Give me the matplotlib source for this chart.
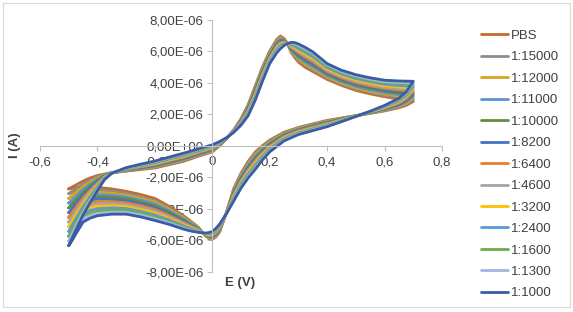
import numpy as np
import matplotlib
matplotlib.use("Agg")
import matplotlib.pyplot as plt
from matplotlib.ticker import FuncFormatter
from matplotlib.patches import Rectangle

plt.rcParams['font.family'] = ['Liberation Sans', 'DejaVu Sans']

labels = ['PBS', '1:15000', '1:12000', '1:11000', '1:10000', '1:8200', '1:6400',
          '1:4600', '1:3200', '1:2400', '1:1600', '1:1300', '1:1000']
colors = ['#C8692E', '#8C8C8C', '#D6A51E', '#5E93CF', '#5E8E3E', '#4472C4', '#ED7D31',
          '#A5A5A5', '#FFC000', '#5B9BD5', '#70AD47', '#A3B5E0', '#3A5BA6']

# potential (V), anodic sweep -0.5 -> 0.7
e_fwd = [-0.5, -0.4875, -0.475, -0.45, -0.425, -0.4, -0.375, -0.35, -0.3, -0.25, -0.2,
         -0.1, -0.05, 0.0, 0.025, 0.05, 0.075, 0.1, 0.125, 0.15, 0.175, 0.2, 0.225,
         0.2375, 0.25, 0.2625, 0.275, 0.2875, 0.3, 0.325, 0.35, 0.4, 0.45, 0.5, 0.55,
         0.6, 0.65, 0.7]
# current (uA), one row per potential, one column per series (same order as labels)
i_fwd = [
    [-2.75, -3.05, -3.35, -3.65, -3.95, -4.25, -4.55, -4.85, -5.15, -5.45, -5.75, -6.05, -6.35],
    [-2.62, -2.89, -3.16, -3.43, -3.70, -3.97, -4.24, -4.50, -4.77, -5.04, -5.31, -5.58, -5.85],
    [-2.50, -2.74, -2.98, -3.21, -3.45, -3.69, -3.93, -4.16, -4.40, -4.64, -4.88, -5.11, -5.35],
    [-2.25, -2.43, -2.61, -2.79, -2.97, -3.15, -3.33, -3.50, -3.68, -3.86, -4.04, -4.22, -4.40],
    [-2.05, -2.18, -2.31, -2.44, -2.57, -2.70, -2.83, -2.95, -3.08, -3.21, -3.34, -3.47, -3.60],
    [-1.90, -1.98, -2.06, -2.14, -2.22, -2.30, -2.38, -2.45, -2.53, -2.61, -2.69, -2.77, -2.85],
    [-1.80, -1.83, -1.86, -1.89, -1.92, -1.95, -1.98, -2.00, -2.03, -2.06, -2.09, -2.12, -2.15],
    [-1.72, -1.72, -1.73, -1.73, -1.73, -1.73, -1.74, -1.74, -1.74, -1.74, -1.75, -1.75, -1.75],
    [-1.62, -1.60, -1.58, -1.57, -1.55, -1.53, -1.51, -1.49, -1.47, -1.46, -1.44, -1.42, -1.40],
    [-1.52, -1.49, -1.46, -1.44, -1.41, -1.38, -1.35, -1.32, -1.29, -1.27, -1.24, -1.21, -1.18],
    [-1.42, -1.38, -1.35, -1.31, -1.27, -1.24, -1.20, -1.16, -1.13, -1.09, -1.05, -1.02, -0.98],
    [-1.00, -0.96, -0.91, -0.87, -0.83, -0.78, -0.74, -0.70, -0.65, -0.61, -0.57, -0.52, -0.48],
    [-0.68, -0.64, -0.60, -0.57, -0.53, -0.49, -0.45, -0.41, -0.37, -0.34, -0.30, -0.26, -0.22],
    [-0.40, -0.36, -0.33, -0.29, -0.25, -0.21, -0.18, -0.14, -0.10, -0.06, -0.03, 0.01, 0.05],
    [-0.02, 0.00, 0.03, 0.05, 0.07, 0.09, 0.12, 0.14, 0.16, 0.18, 0.21, 0.23, 0.25],
    [0.45, 0.45, 0.46, 0.46, 0.47, 0.47, 0.48, 0.48, 0.48, 0.49, 0.49, 0.50, 0.50],
    [1.00, 0.99, 0.98, 0.96, 0.95, 0.94, 0.93, 0.91, 0.90, 0.89, 0.88, 0.86, 0.85],
    [1.70, 1.67, 1.63, 1.60, 1.57, 1.53, 1.50, 1.47, 1.43, 1.40, 1.37, 1.33, 1.30],
    [2.60, 2.54, 2.48, 2.43, 2.37, 2.31, 2.25, 2.19, 2.13, 2.08, 2.02, 1.96, 1.90],
    [3.80, 3.73, 3.65, 3.58, 3.50, 3.43, 3.35, 3.28, 3.20, 3.13, 3.05, 2.98, 2.90],
    [5.00, 4.93, 4.85, 4.78, 4.70, 4.63, 4.55, 4.48, 4.40, 4.33, 4.25, 4.18, 4.10],
    [6.00, 5.93, 5.87, 5.80, 5.73, 5.67, 5.60, 5.53, 5.47, 5.40, 5.33, 5.27, 5.20],
    [6.75, 6.68, 6.61, 6.54, 6.47, 6.40, 6.33, 6.25, 6.18, 6.11, 6.04, 5.97, 5.90],
    [6.95, 6.88, 6.82, 6.75, 6.68, 6.62, 6.55, 6.48, 6.42, 6.35, 6.28, 6.22, 6.15],
    [6.80, 6.76, 6.73, 6.69, 6.65, 6.61, 6.58, 6.54, 6.50, 6.46, 6.43, 6.39, 6.35],
    [6.45, 6.45, 6.46, 6.46, 6.46, 6.46, 6.47, 6.47, 6.47, 6.47, 6.48, 6.48, 6.48],
    [5.90, 5.95, 6.01, 6.06, 6.12, 6.17, 6.23, 6.28, 6.33, 6.39, 6.44, 6.50, 6.55],
    [5.58, 5.66, 5.74, 5.82, 5.90, 5.98, 6.06, 6.13, 6.21, 6.29, 6.37, 6.45, 6.53],
    [5.30, 5.40, 5.49, 5.59, 5.68, 5.78, 5.88, 5.97, 6.07, 6.16, 6.26, 6.35, 6.45],
    [4.95, 5.06, 5.16, 5.27, 5.37, 5.48, 5.59, 5.69, 5.80, 5.90, 6.01, 6.11, 6.22],
    [4.70, 4.80, 4.91, 5.01, 5.12, 5.22, 5.33, 5.43, 5.53, 5.64, 5.74, 5.85, 5.95],
    [4.20, 4.28, 4.37, 4.45, 4.53, 4.62, 4.70, 4.78, 4.87, 4.95, 5.03, 5.12, 5.20],
    [3.82, 3.90, 3.98, 4.06, 4.14, 4.22, 4.30, 4.38, 4.46, 4.54, 4.62, 4.70, 4.78],
    [3.50, 3.58, 3.67, 3.75, 3.83, 3.92, 4.00, 4.08, 4.17, 4.25, 4.33, 4.42, 4.50],
    [3.28, 3.37, 3.45, 3.54, 3.62, 3.71, 3.79, 3.88, 3.96, 4.05, 4.13, 4.22, 4.30],
    [3.10, 3.19, 3.28, 3.36, 3.45, 3.54, 3.63, 3.71, 3.80, 3.89, 3.98, 4.06, 4.15],
    [2.95, 3.05, 3.14, 3.24, 3.33, 3.43, 3.53, 3.62, 3.72, 3.81, 3.91, 4.00, 4.10],
    [2.80, 2.91, 3.01, 3.12, 3.23, 3.33, 3.44, 3.55, 3.65, 3.76, 3.87, 3.97, 4.08],
]

# cathodic sweep 0.7 -> -0.5
e_rev = [0.675, 0.65, 0.6, 0.55, 0.5, 0.45, 0.4, 0.35, 0.3, 0.25, 0.2, 0.175, 0.15,
         0.125, 0.1, 0.075, 0.05, 0.025, 0.0125, 0.0, -0.0125, -0.025, -0.05, -0.075,
         -0.1, -0.15, -0.2, -0.25, -0.3, -0.35, -0.4, -0.425, -0.45, -0.475, -0.4875, -0.5]
i_rev = [
    [2.55, 2.62, 2.69, 2.76, 2.83, 2.90, 2.98, 3.05, 3.12, 3.19, 3.26, 3.33, 3.40],
    [2.40, 2.45, 2.50, 2.55, 2.60, 2.65, 2.70, 2.75, 2.80, 2.85, 2.90, 2.95, 3.00],
    [2.20, 2.23, 2.26, 2.29, 2.32, 2.35, 2.38, 2.40, 2.43, 2.46, 2.49, 2.52, 2.55],
    [2.05, 2.06, 2.07, 2.08, 2.09, 2.10, 2.12, 2.13, 2.14, 2.15, 2.16, 2.17, 2.18],
    [1.90, 1.90, 1.89, 1.89, 1.88, 1.88, 1.88, 1.87, 1.87, 1.86, 1.86, 1.85, 1.85],
    [1.75, 1.73, 1.71, 1.69, 1.67, 1.65, 1.64, 1.62, 1.60, 1.58, 1.56, 1.54, 1.52],
    [1.60, 1.57, 1.53, 1.50, 1.47, 1.43, 1.40, 1.37, 1.33, 1.30, 1.27, 1.23, 1.20],
    [1.38, 1.34, 1.31, 1.27, 1.24, 1.20, 1.17, 1.13, 1.09, 1.06, 1.02, 0.99, 0.95],
    [1.15, 1.11, 1.08, 1.04, 1.00, 0.96, 0.93, 0.89, 0.85, 0.81, 0.78, 0.74, 0.70],
    [0.85, 0.80, 0.76, 0.71, 0.67, 0.62, 0.58, 0.53, 0.48, 0.44, 0.39, 0.35, 0.30],
    [0.35, 0.29, 0.23, 0.16, 0.10, 0.04, -0.03, -0.09, -0.15, -0.21, -0.28, -0.34, -0.40],
    [0.00, -0.08, -0.15, -0.23, -0.30, -0.38, -0.45, -0.53, -0.60, -0.68, -0.75, -0.83, -0.90],
    [-0.40, -0.49, -0.58, -0.68, -0.77, -0.86, -0.95, -1.04, -1.13, -1.23, -1.32, -1.41, -1.50],
    [-1.00, -1.09, -1.18, -1.26, -1.35, -1.44, -1.53, -1.61, -1.70, -1.79, -1.88, -1.96, -2.05],
    [-1.75, -1.83, -1.91, -1.99, -2.07, -2.15, -2.23, -2.30, -2.38, -2.46, -2.54, -2.62, -2.70],
    [-2.70, -2.77, -2.83, -2.90, -2.97, -3.03, -3.10, -3.17, -3.23, -3.30, -3.37, -3.43, -3.50],
    [-4.20, -4.21, -4.22, -4.23, -4.23, -4.24, -4.25, -4.26, -4.27, -4.28, -4.28, -4.29, -4.30],
    [-5.50, -5.46, -5.42, -5.38, -5.33, -5.29, -5.25, -5.21, -5.17, -5.13, -5.08, -5.04, -5.00],
    [-5.80, -5.75, -5.71, -5.66, -5.62, -5.57, -5.53, -5.48, -5.43, -5.39, -5.34, -5.30, -5.25],
    [-5.95, -5.91, -5.87, -5.83, -5.78, -5.74, -5.70, -5.66, -5.62, -5.58, -5.53, -5.49, -5.45],
    [-5.90, -5.87, -5.84, -5.80, -5.77, -5.74, -5.71, -5.68, -5.65, -5.61, -5.58, -5.55, -5.52],
    [-5.70, -5.69, -5.68, -5.66, -5.65, -5.64, -5.63, -5.61, -5.60, -5.59, -5.58, -5.56, -5.55],
    [-5.15, -5.18, -5.21, -5.24, -5.27, -5.30, -5.33, -5.35, -5.38, -5.41, -5.44, -5.47, -5.50],
    [-4.80, -4.85, -4.90, -4.96, -5.01, -5.06, -5.11, -5.16, -5.21, -5.27, -5.32, -5.37, -5.42],
    [-4.45, -4.52, -4.59, -4.66, -4.73, -4.80, -4.88, -4.95, -5.02, -5.09, -5.16, -5.23, -5.30],
    [-3.85, -3.95, -4.04, -4.14, -4.23, -4.33, -4.43, -4.52, -4.62, -4.71, -4.81, -4.90, -5.00],
    [-3.35, -3.47, -3.58, -3.70, -3.82, -3.93, -4.05, -4.17, -4.28, -4.40, -4.52, -4.63, -4.75],
    [-3.10, -3.22, -3.34, -3.46, -3.57, -3.69, -3.81, -3.93, -4.05, -4.17, -4.28, -4.40, -4.52],
    [-2.90, -3.02, -3.14, -3.26, -3.38, -3.50, -3.63, -3.75, -3.87, -3.99, -4.11, -4.23, -4.35],
    [-2.75, -2.88, -3.02, -3.15, -3.28, -3.42, -3.55, -3.68, -3.82, -3.95, -4.08, -4.22, -4.35],
    [-2.65, -2.80, -2.95, -3.10, -3.25, -3.40, -3.55, -3.70, -3.85, -4.00, -4.15, -4.30, -4.45],
    [-2.63, -2.79, -2.96, -3.12, -3.29, -3.45, -3.62, -3.78, -3.94, -4.11, -4.27, -4.43, -4.60],
    [-2.62, -2.81, -2.99, -3.18, -3.36, -3.55, -3.74, -3.92, -4.11, -4.29, -4.48, -4.66, -4.85],
    [-2.66, -2.91, -3.15, -3.40, -3.64, -3.89, -4.13, -4.38, -4.62, -4.87, -5.11, -5.36, -5.60],
    [-2.70, -2.98, -3.25, -3.53, -3.80, -4.08, -4.35, -4.63, -4.90, -5.18, -5.45, -5.73, -6.00],
    [-2.75, -3.05, -3.35, -3.65, -3.95, -4.25, -4.55, -4.85, -5.15, -5.45, -5.75, -6.05, -6.35],
]

assert len(e_fwd) == len(i_fwd) and len(e_rev) == len(i_rev)

E = np.array(e_fwd + e_rev)
I = np.array(i_fwd + i_rev) * 1e-6

fig = plt.figure(figsize=(5.73, 3.12), dpi=100)
fig.patches.append(Rectangle((3 / 573, 5 / 312), 567 / 573, 304 / 312, transform=fig.transFigure,
                             fill=False, edgecolor='#D9D9D9', linewidth=0.8))
ax = fig.add_axes([40 / 573, 1 - 271.7 / 312, 402 / 573, 252.2 / 312])

for j in range(len(labels)):
    ax.plot(E, I[:, j], color=colors[j], linewidth=2.0, label=labels[j],
            solid_joinstyle='round', solid_capstyle='round')

ax.set_xlim(-0.6, 0.8)
ax.set_ylim(-8e-6, 8e-6)
ax.set_xticks(np.arange(-0.6, 0.81, 0.2))
ax.set_yticks(np.arange(-8e-6, 8.1e-6, 2e-6))

def fx(v, pos):
    if abs(v) < 1e-9:
        return '0'
    return ('%.1f' % v).replace('.', ',')

def fy(v, pos):
    if abs(v) < 1e-12:
        v = 0.0
    return ('%.2E' % v).replace('.', ',')

ax.xaxis.set_major_formatter(FuncFormatter(fx))
ax.yaxis.set_major_formatter(FuncFormatter(fy))

for s in ['top', 'right']:
    ax.spines[s].set_visible(False)
ax.spines['left'].set_position(('data', 0))
ax.spines['bottom'].set_position(('data', 0))
for s in ['left', 'bottom']:
    ax.spines[s].set_color('#BFBFBF')
    ax.spines[s].set_linewidth(0.8)
ax.tick_params(axis='both', direction='out', length=3.5, width=0.8, color='#BFBFBF',
               labelsize=9.5, labelcolor='#404040')
ax.tick_params(axis='x', pad=4)
ax.tick_params(axis='y', pad=3)

fig.text(15 / 573, 1 - 145 / 312, 'I (A)', rotation=90, ha='center', va='center',
         fontsize=9.5, fontweight='bold', color='#404040')
fig.text(240 / 573, 1 - 283 / 312, 'E (V)', ha='center', va='center',
         fontsize=9.5, fontweight='bold', color='#404040')

leg = ax.legend(loc='upper left', bbox_to_anchor=(474 / 573, 1 - 23 / 312),
                bbox_transform=fig.transFigure, frameon=False, fontsize=9.5,
                handlelength=2.1, handletextpad=0.2, labelspacing=0.70, borderpad=0)
for t in leg.get_texts():
    t.set_color('#404040')

fig.savefig('out.png', dpi=100, facecolor='white')
